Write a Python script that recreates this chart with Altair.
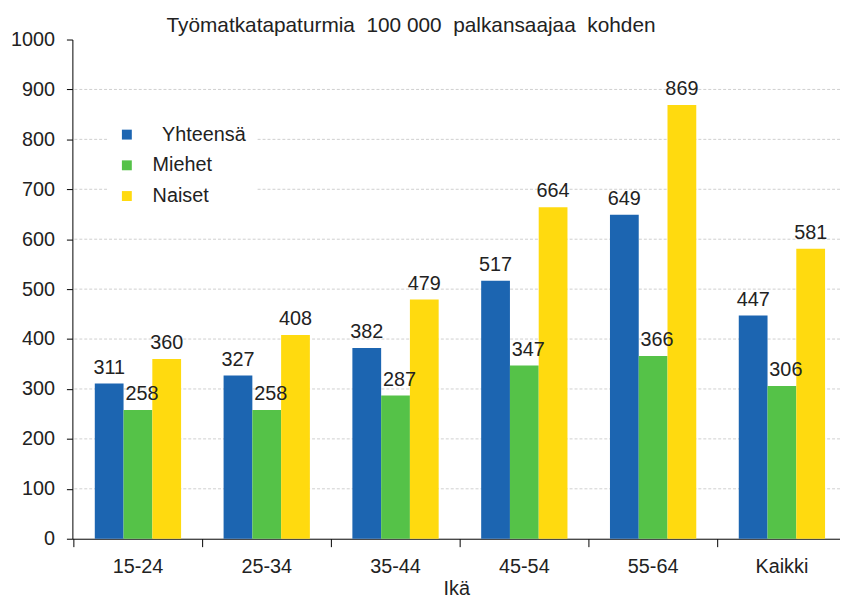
import altair as alt
import pandas as pd

categories = ["15-24", "25-34", "35-44", "45-54", "55-64", "Kaikki"]
series = ["\u200b\u00a0\u2009Yhteensä", "Miehet", "Naiset"]
yhteensa = [311, 327, 382, 517, 649, 447]
miehet = [258, 258, 287, 347, 366, 306]
naiset = [360, 408, 479, 664, 869, 581]
colors = ["#1c65b1", "#55c248", "#ffda0f"]
grid_values = [100, 200, 300, 400, 500, 600, 700, 800, 900]
tick_values = [0, 100, 200, 300, 400, 500, 600, 700, 800, 900, 1000]

rows = []
for i, c in enumerate(categories):
    for s, vals in zip(series, [yhteensa, miehet, naiset]):
        rows.append({"Ikä": c, "Sarja": s, "Arvo": vals[i]})
df = pd.DataFrame(rows)
grid_df = pd.DataFrame({"g": grid_values})

FONT = "Liberation Sans"
TXT = "#222222"

x = alt.X("Ikä:N", sort=categories, title="Ikä",
          scale=alt.Scale(paddingInner=0.33, paddingOuter=0.145, align=0.6),
          axis=alt.Axis(labelAngle=0, bandPosition=-0.246, tickSize=8, labelPadding=10,
                        labelFontSize=20, titleFontSize=20, titleFontWeight="normal",
                        titlePadding=2, domainColor="black", tickColor="black",
                        labelColor=TXT, titleColor=TXT, grid=False))
xo = alt.XOffset("Sarja:N", sort=series, scale=alt.Scale(domain=series, paddingInner=0, paddingOuter=0))
yscale = alt.Scale(domain=[0, 1000])
yaxis = alt.Axis(values=tick_values, format="d", tickSize=6, labelPadding=12,
                 labelFontSize=20, labelColor=TXT, domainColor="black",
                 tickColor="black", grid=False)
y = alt.Y("Arvo:Q", title=None, scale=yscale, axis=yaxis)

grid = alt.Chart(grid_df).mark_rule(color="#cfcfcf", strokeDash=[3, 2], strokeWidth=1).encode(
    y=alt.Y("g:Q", title=None, scale=yscale, axis=yaxis)
)

bars = alt.Chart(df).mark_bar().encode(
    x=x, xOffset=xo, y=y,
    color=alt.Color("Sarja:N", sort=series,
                    scale=alt.Scale(domain=series, range=colors),
                    legend=alt.Legend(title=None, orient="none", legendX=35, legendY=76,
                                      symbolType="square", symbolSize=100, symbolStrokeWidth=0,
                                      labelFontSize=20, labelColor=TXT, rowPadding=11,
                                      labelOffset=16, fillColor="white", padding=10,
                                      labelFont=FONT))
)

def labels(names, dx):
    return alt.Chart(df).transform_filter(
        alt.FieldOneOfPredicate(field="Sarja", oneOf=names)
    ).mark_text(baseline="alphabetic", dy=-10, dx=dx, fontSize=20, color=TXT, font=FONT).encode(
        x=x, xOffset=xo, y=y, text="Arvo:Q"
    )

title_text = "Työmatkatapaturmia\u00a0 100\u00a0000\u00a0 palkansaajaa\u00a0 kohden"

chart = alt.layer(grid, bars, labels([series[0], series[2]], 0), labels([series[1]], 4)).properties(
    width=775, height=504,
    autosize=alt.AutoSizeParams(type="none"),
    padding={"left": 65, "top": 29, "right": 0, "bottom": 56},
    title=alt.TitleParams(title_text, anchor="start", frame="group",
                          dx=95, dy=6, offset=0, fontSize=21, fontWeight="normal", font=FONT,
                          color=TXT),
).configure(font=FONT).configure_view(stroke=None)

chart.save("out.html", embed_options={"renderer": "svg", "actions": False})
